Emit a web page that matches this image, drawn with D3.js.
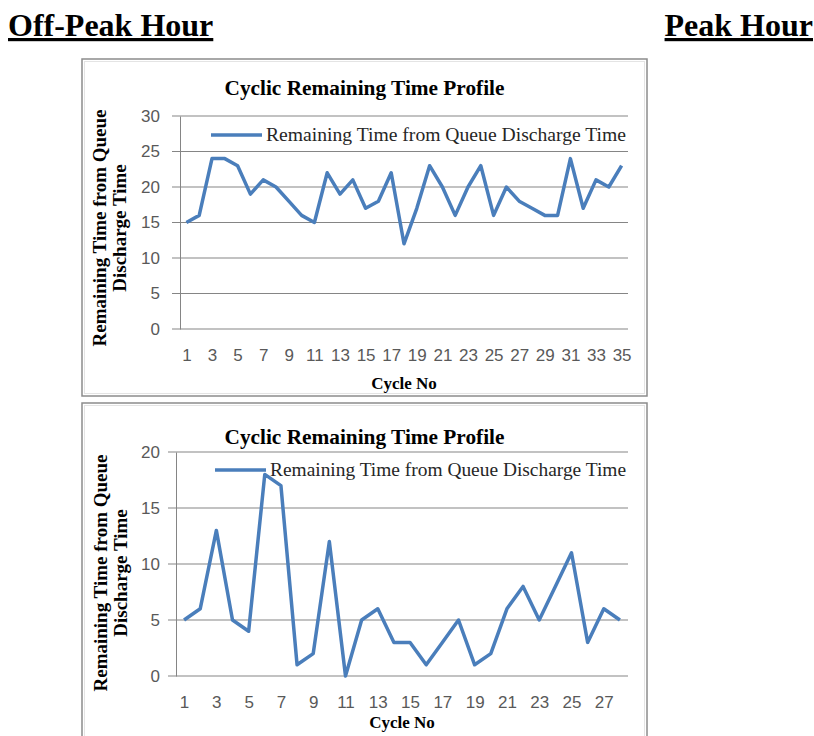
<!doctype html>
<html lang="en">
<head>
<meta charset="utf-8">
<title>Cyclic Remaining Time Profile</title>
<script src="https://cdnjs.cloudflare.com/ajax/libs/d3/7.8.5/d3.min.js"></script>
<style>
  body { margin: 0; background: #fff; }
  svg { display: block; }
</style>
</head>
<body>
<svg width="814" height="736"></svg>
<script>
// off-peak hour
var offPeakCycles = [1,2,3,4,5,6,7,8,9,10,11,12,13,14,15,16,17,18,19,20,21,22,23,24,25,26,27,28,29,30,31,32,33,34,35];
var offPeakValues = [15,16,24,24,23,19,21,20,18,16,15,22,19,21,17,18,22,12,17,23,20,16,20,23,16,20,18,17,16,16,24,17,21,20,23];
var offPeakXTicks = [1,3,5,7,9,11,13,15,17,19,21,23,25,27,29,31,33,35];
var offPeakYTicks = [0,5,10,15,20,25,30];

// peak hour
var peakCycles = [1,2,3,4,5,6,7,8,9,10,11,12,13,14,15,16,17,18,19,20,21,22,23,24,25,26,27,28];
var peakValues = [5,6,13,5,4,18,17,1,2,12,0,5,6,3,3,1,3,5,1,2,6,8,5,8,11,3,6,5];
var peakXTicks = [1,3,5,7,9,11,13,15,17,19,21,23,25,27];
var peakYTicks = [0,5,10,15,20];

var chartTitle = "Cyclic Remaining Time Profile";
var seriesName = "Remaining Time from Queue Discharge Time";
var yTitle = ["Remaining Time from Queue", "Discharge Time"];
var xTitle = "Cycle No";

var svg = d3.select("svg");
var serif = "'Liberation Serif', 'Times New Roman', serif";
var sans = "'Liberation Sans', Arial, sans-serif";
var blue = "#4a7ebb";

// headings
svg.append("text").attr("x", 8).attr("y", 36)
  .style("font-family", serif).style("font-weight", "bold").style("font-size", "32px")
  .style("text-decoration", "underline")
  .text("Off-Peak Hour");
svg.append("text").attr("x", 813).attr("y", 36).attr("text-anchor", "end")
  .style("font-family", serif).style("font-weight", "bold").style("font-size", "32px")
  .style("text-decoration", "underline")
  .text("Peak Hour");

function drawChart(c) {
  var g = svg.append("g");

  g.append("rect").attr("x", c.fx).attr("y", c.fy).attr("width", c.fw).attr("height", c.fh)
    .attr("fill", "#fff").attr("stroke", "#8c8c8c").attr("stroke-width", 1.5);
  g.append("rect").attr("x", c.fx + 2.5).attr("y", c.fy + 2.5).attr("width", c.fw - 5).attr("height", c.fh - 5)
    .attr("fill", "none").attr("stroke", "#e4e4e4").attr("stroke-width", 1);

  var x = d3.scalePoint().domain(c.cycles).range([c.left, c.right]).padding(0.5);
  var y = d3.scaleLinear().domain([0, d3.max(c.yTicks)]).range([c.bottom, c.top]);

  // gridlines
  g.append("g").selectAll("line").data(c.yTicks).join("line")
    .attr("x1", c.left - 8).attr("x2", c.right)
    .attr("y1", d => y(d)).attr("y2", d => y(d))
    .attr("stroke", "#858585").attr("stroke-width", 1);

  // y axis
  var yAxis = g.append("g").attr("transform", "translate(" + c.left + ",0)")
    .call(d3.axisLeft(y).tickValues(c.yTicks).tickSize(0).tickPadding(c.left - c.labelRight));
  yAxis.select(".domain").attr("stroke", "#858585");
  yAxis.selectAll("text").style("font-family", sans).style("font-size", "17px").attr("fill", "#595959");

  // x axis labels
  var xAxis = g.append("g").attr("transform", "translate(0," + c.bottom + ")")
    .call(d3.axisBottom(x).tickValues(c.xTicks).tickSize(0).tickPadding(c.xPad));
  xAxis.select(".domain").remove();
  xAxis.selectAll("text").style("font-family", sans).style("font-size", "17px").attr("fill", "#595959");

  // line
  var line = d3.line().x((d, i) => x(c.cycles[i])).y(d => y(d));
  g.append("path").datum(c.values).attr("d", line)
    .attr("fill", "none").attr("stroke", blue).attr("stroke-width", 3.5)
    .attr("stroke-linejoin", "round");

  // title
  g.append("text").attr("x", c.fx + c.fw / 2).attr("y", c.titleY).attr("text-anchor", "middle")
    .style("font-family", serif).style("font-weight", "bold").style("font-size", "20px")
    .attr("textLength", 280).attr("lengthAdjust", "spacingAndGlyphs")
    .text(chartTitle);

  // legend
  g.append("line").attr("x1", c.legX).attr("x2", c.legX + 51)
    .attr("y1", c.legY).attr("y2", c.legY)
    .attr("stroke", blue).attr("stroke-width", 3.5);
  g.append("text").attr("x", c.legX + 55).attr("y", c.legY + 6)
    .style("font-family", serif).style("font-size", "19px").attr("fill", "#262626")
    .attr("textLength", 626 - c.legX - 55).attr("lengthAdjust", "spacingAndGlyphs")
    .text(seriesName);

  // axis titles
  yTitle.forEach(function(t, i) {
    g.append("text")
      .attr("transform", "translate(" + (c.yTitleX + i * 20) + "," + c.yTitleY + ") rotate(-90)")
      .attr("text-anchor", "middle").attr("dominant-baseline", "central")
      .style("font-family", serif).style("font-weight", "bold").style("font-size", "19px")
      .text(t);
  });
  g.append("text").attr("x", (c.left + c.right) / 2).attr("y", c.xTitleY).attr("text-anchor", "middle")
    .style("font-family", serif).style("font-weight", "bold").style("font-size", "17px")
    .text(xTitle);
}

drawChart({
  cycles: offPeakCycles, values: offPeakValues, xTicks: offPeakXTicks, yTicks: offPeakYTicks,
  fx: 82, fy: 59, fw: 565, fh: 337,
  left: 180, right: 628, top: 116, bottom: 329, labelRight: 160, xPad: 20,
  titleY: 95, legX: 211, legY: 135, yTitleX: 99, yTitleY: 228, xTitleY: 389
});

drawChart({
  cycles: peakCycles, values: peakValues, xTicks: peakXTicks, yTicks: peakYTicks,
  fx: 82, fy: 403, fw: 565, fh: 345,
  left: 176, right: 628, top: 452, bottom: 676, labelRight: 160, xPad: 20,
  titleY: 444, legX: 215, legY: 470, yTitleX: 100, yTitleY: 573, xTitleY: 728
});
</script>
</body>
</html>
